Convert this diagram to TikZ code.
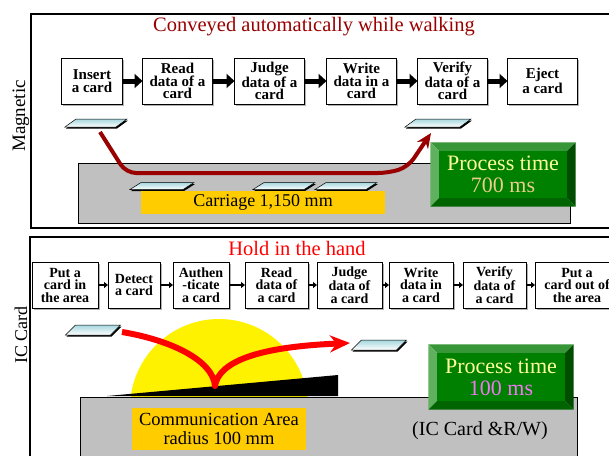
\documentclass[tikz,border=0pt]{standalone}
\usepackage{fontspec}
\setmainfont{Liberation Serif}
\usetikzlibrary{positioning,arrows.meta,shadows}

\definecolor{darkred}{RGB}{153,0,0}
\definecolor{carriage}{RGB}{192,192,192}
\definecolor{tagorange}{RGB}{255,204,0}
\definecolor{facegreen}{RGB}{0,128,0}
\definecolor{bevtop}{RGB}{55,150,55}
\definecolor{bevleft}{RGB}{95,176,95}
\definecolor{bevright}{RGB}{0,77,0}
\definecolor{bevbottom}{RGB}{0,100,0}
\definecolor{ptyellow}{RGB}{255,255,153}
\definecolor{pttan}{RGB}{235,205,140}
\definecolor{ptviolet}{RGB}{240,120,240}
\definecolor{cardblue}{RGB}{165,215,222}

\tikzset{
  stepbox/.style={draw, line width=0.8pt, fill=white, align=center, inner sep=1pt,
    outer sep=0pt, minimum height=46pt,
    drop shadow={shadow xshift=1.5pt,shadow yshift=-1.5pt,fill=gray!60,opacity=1}},
  magbox/.style={stepbox, minimum width=70pt, font=\bfseries\fontsize{15}{12.5}\selectfont},
  icbox/.style={stepbox, font=\bfseries\fontsize{14}{12.5}\selectfont},
  bigarrow/.style={line width=5pt, -{Triangle[length=8pt,width=14pt]}},
  smallarrow/.style={line width=1.5pt, -{Triangle[length=4pt,width=6pt]}},
  % card: width / height / skew, centre kept as (-in)
  pics/card/.style n args={3}{code={
    \fill[black] (-#1/2+1,#2/2+1.5) -- (#1/2-#3+1,#2/2+1.5) -- (#1/2+1,-#2/2+1.5)
      -- (-#1/2+#3+1,-#2/2+1.5) -- cycle;
    \draw[line width=0.5pt, top color=cardblue, bottom color=white]
      (-#1/2,#2/2) -- (#1/2-#3,#2/2) -- (#1/2,-#2/2) -- (-#1/2+#3,-#2/2) -- cycle;
    \coordinate (-in) at (0,0);
  }},
  tag/.style={fill=tagorange, inner sep=0pt, align=center},
  ptface/.style={fill=facegreen, inner sep=0pt, align=center,
    font=\fontsize{22}{22}\selectfont},
  side/.style={rotate=90, font=\fontsize{19}{19}\selectfont}
}

\begin{document}
\begin{tikzpicture}[x=1pt,y=-1pt]
\useasboundingbox[fill=white] (0,0) rectangle (609,455);

% frames
\draw[line width=2pt] (31,14) rectangle (625,228);
\draw[line width=1.5pt] (30,237) rectangle (625,480);
\node[side] (lblMag) at (21,116) {Magnetic};
\node[side, font=\fontsize{18}{18}\selectfont] (lblIC) at (21,335) {IC Card};

% ---- magnetic ----
\node[font=\fontsize{20.5}{20.5}\selectfont, text=darkred] (ttlMag) at (314,27) {Conveyed automatically while walking};

\node[magbox, minimum width=61pt] (m1) at (92,81) {Insert\\a card};
\node[magbox, right=20pt of m1] (m2) {Read\\data of a\\card};
\node[magbox, right=22pt of m2] (m3) {Judge\\data of a\\card};
\node[magbox, right=22pt of m3] (m4) {Write\\data in a\\card};
\node[magbox, right=21pt of m4] (m5) {Verify\\data of a\\card};
\node[magbox, right=20pt of m5] (m6) {Eject\\a card};
\foreach \a/\b in {m1/m2,m2/m3,m3/m4,m4/m5,m5/m6}
  \draw[bigarrow] (\a) -- (\b);

\draw[fill=carriage, line width=0.8pt] (78,163) rectangle (570,223);
\pic (mcA) at (96,123) {card={62}{8}{11}};
\pic (mcB) at (438,123) {card={66}{8}{11}};
\pic (cA) at (162,186) {card={64}{7}{11}};
\pic (cB) at (284,186) {card={62}{7}{11}};
\pic (cC) at (346,186) {card={62}{7}{11}};
\node[tag, minimum width=244pt, minimum height=23pt, font=\fontsize{18}{18}\selectfont] (tagMag) at (263,202.5) {Carriage 1,150 mm};

\node[ptface, minimum width=128pt, minimum height=47pt] (ptMag) at (503,174.5)
  {{\color{ptyellow}Process time}\\{\color{pttan}700 ms}};

\draw[darkred, line width=4pt, rounded corners=10pt, -{Stealth[length=15pt,width=13pt]}]
  ([xshift=4pt,yshift=-9pt]mcA-in) -- (126,173) -- (388,173) -- (408,167)
  -- ([xshift=-7pt,yshift=-10pt]mcB-in);

% ---- ic card ----
\node[font=\fontsize{20.5}{20.5}\selectfont, text=red] (ttlIC) at (297,248) {Hold in the hand};

\node[icbox, minimum width=66pt] (c1) at (65,285) {Put a\\card in\\the area};
\node[icbox, minimum width=52pt, right=10pt of c1] (c2) {Detect\\a card};
\node[icbox, minimum width=56pt, right=13pt of c2] (c3) {Authen\\-ticate\\a card};
\node[icbox, minimum width=63pt, right=16pt of c3] (c4) {Read\\data of\\a card};
\node[icbox, minimum width=65pt, right=9pt of c4] (c5) {Judge\\data of\\a card};
\node[icbox, minimum width=64pt, right=7pt of c5] (c6) {Write\\data in\\a card};
\node[icbox, minimum width=63pt, right=10pt of c6] (c7) {Verify\\data of\\a card};
\node[icbox, minimum width=84pt, right=9pt of c7] (c8) {Put a\\card out of\\the area};
\foreach \a/\b in {c1/c2,c2/c3,c3/c4,c4/c5,c5/c6,c6/c7,c7/c8}
  \draw[smallarrow] (\a) -- (\b);

\fill[yellow] (219,408) circle[radius=89];
\fill[black] (107,396) -- (338,375) -- (338,396) -- cycle;
\draw[fill=carriage, line width=0.8pt] (80,397) rectangle (577,480);
\node[tag, minimum width=174pt, minimum height=42pt, font=\fontsize{18.5}{18.5}\selectfont] (tagIC) at (219,429) {Communication Area\\radius 100 mm};
\node[font=\fontsize{20}{20}\selectfont] (rw) at (480,431) {(IC Card \&R/W)};

\node[ptface, minimum width=128pt, minimum height=48pt] (ptIC) at (501,377)
  {{\color{ptyellow}Process time}\\{\color{ptviolet}100 ms}};

% bevels round the process time faces
\foreach \p in {ptMag,ptIC}{
  \fill[bevtop] ([shift={(-8.5pt,8.5pt)}]\p.north west) -- ([shift={(8.5pt,8.5pt)}]\p.north east)
    -- (\p.north east) -- (\p.north west) -- cycle;
  \fill[bevleft] ([shift={(-8.5pt,8.5pt)}]\p.north west) -- (\p.north west)
    -- (\p.south west) -- ([shift={(-8.5pt,-8.5pt)}]\p.south west) -- cycle;
  \fill[bevright] ([shift={(8.5pt,8.5pt)}]\p.north east) -- ([shift={(8.5pt,-8.5pt)}]\p.south east)
    -- (\p.south east) -- (\p.north east) -- cycle;
  \fill[bevbottom] ([shift={(-8.5pt,-8.5pt)}]\p.south west) -- ([shift={(8.5pt,-8.5pt)}]\p.south east)
    -- (\p.south east) -- (\p.south west) -- cycle;
}

\pic (icA) at (93,330) {card={55}{10}{10}};
\pic (icB) at (379,345) {card={55}{10}{10}};
\coordinate (touch) at (215,386);
\draw[red, line width=6pt, line join=round, -{Stealth[length=20pt,width=17pt]}]
  ([xshift=29pt,yshift=-2pt]icA-in) .. controls (170,340) and (213,360) .. (touch)
  .. controls (220,355) and (280,346) .. ([xshift=-29pt,yshift=2pt]icB-in);
\end{tikzpicture}
\end{document}
